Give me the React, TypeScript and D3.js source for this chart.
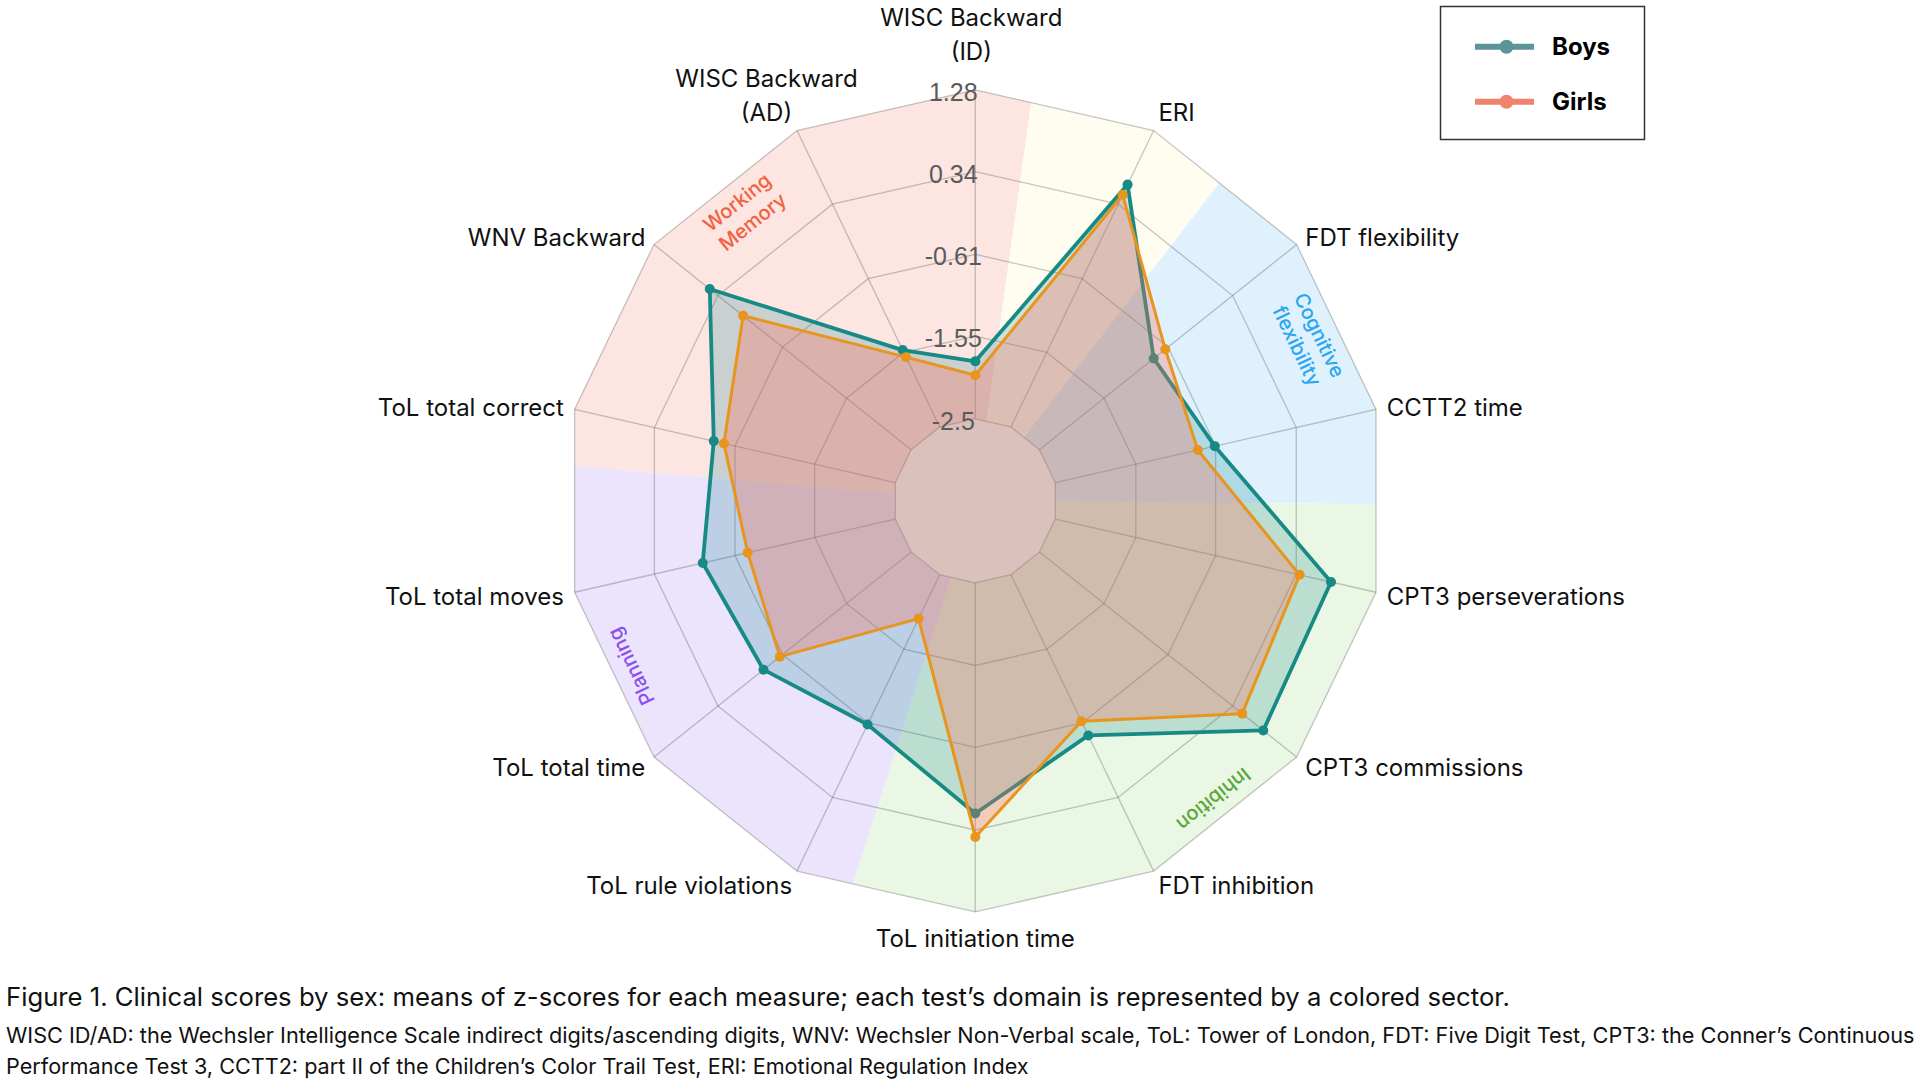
import React from 'react';
import * as d3 from 'd3';

// ---------------- data ----------------
const measures: string[] = [
  'WISC Backward\n(ID)',
  'ERI',
  'FDT flexibility',
  'CCTT2 time',
  'CPT3 perseverations',
  'CPT3 commissions',
  'FDT inhibition',
  'ToL initiation time',
  'ToL rule violations',
  'ToL total time',
  'ToL total moves',
  'ToL total correct',
  'WNV Backward',
  'WISC Backward\n(AD)',
];
const boys: number[] = [-1.84, 0.59, -0.82, -0.62, 0.75, 0.79, -0.45, 0.15, -0.59, -0.33, -0.23, -0.36, 0.46, -1.52];
const girls: number[] = [-2.0, 0.46, -0.65, -0.82, 0.38, 0.48, -0.63, 0.42, -1.94, -0.57, -0.76, -0.48, -0.03, -1.61];
const radialTicks: number[] = [-2.5, -1.55, -0.61, 0.34, 1.28];
const radialTickLabels: string[] = ['-2.5', '-1.55', '-0.61', '0.34', '1.28'];

// domain sectors (degrees, clockwise from top)
const domainNames: string[] = ['Working\nMemory', '', 'Cognitive\nflexibility', 'Inhibition', 'Planning'];
const domainStart: number[] = [-85, 8, 37.5, 90.5, 197.7];
const domainEnd: number[] = [8, 37.5, 90.5, 197.7, 275];
const domainLabelAngle: (number | null)[] = [-38.6, null, 64.3, 141.4, 244.3];

const seriesNames: string[] = ['Boys', 'Girls'];

const captionLines: string[] = [
  'Figure 1. Clinical scores by sex: means of z-scores for each measure; each test\u2019s domain is represented by a colored sector.',
  'WISC ID/AD: the Wechsler Intelligence Scale indirect digits/ascending digits, WNV: Wechsler Non-Verbal scale, ToL: Tower of London, FDT: Five Digit Test, CPT3: the Conner\u2019s Continuous',
  'Performance Test 3, CCTT2: part II of the Children\u2019s Color Trail Test, ERI: Emotional Regulation Index',
];

// ---------------- styles ----------------
const W = 1920;
const H = 1080;
const CX = 975.3;
const CY = 500.8;
const R_IN = 82;
const R_OUT = 411;
const FONT = 'Inter, "Noto Sans", sans-serif';

const sectorFill = ['#fde5e1', '#fffcf0', '#def1fc', '#eaf7e4', '#ebe4fc'];
const domainTextColor = ['#f4603e', '#000', '#2ba6f0', '#5aa83a', '#8b4ff2'];

const seriesLine = ['#178a85', '#e8951e'];
const seriesFill = ['rgba(0,125,135,0.2)', 'rgba(255,108,88,0.3)'];
const legendColor = ['#5b9599', '#f0826e'];

let measureCtx: CanvasRenderingContext2D | null = null;
function textWidth(t: string, font: string): number {
  if (!measureCtx && typeof document !== 'undefined') {
    measureCtx = document.createElement('canvas').getContext('2d');
  }
  if (!measureCtx) return t.length * 12;
  measureCtx.font = font;
  return measureCtx.measureText(t).width;
}

export default function App() {
  const n = measures.length;
  const angle = d3.scaleLinear().domain([0, n]).range([0, 2 * Math.PI]);
  const rScale = d3.scaleLinear().domain([radialTicks[0], radialTicks[radialTicks.length - 1]]).range([R_IN, R_OUT]);
  const idx = d3.range(n);

  const ringPath = (r: number) =>
    (d3.lineRadial<number>().angle((i) => angle(i)).radius(() => r).curve(d3.curveLinearClosed)(idx) as string);

  const outerPoly = ringPath(R_OUT);
  const innerPoly = ringPath(R_IN);

  const sectorArc = d3.arc<any>();
  const deg = (a: number) => (a * Math.PI) / 180;

  const seriesData = [boys, girls];
  const seriesPath = (vals: number[]) =>
    d3
      .lineRadial<number>()
      .angle((_, i) => angle(i))
      .radius((v) => rScale(v))
      .curve(d3.curveLinearClosed)(vals) as string;

  const labelFont = 24;
  const lh = 34;
  const axisLabels = measures.map((m, i) => {
    const a = angle(i);
    const s = Math.sin(a);
    const c = Math.cos(a);
    const px = CX + (R_OUT + 11) * s;
    const py = CY - (R_OUT + 14) * c;
    const lines = m.split('\n');
    const k = lines.length;
    let anchor: 'start' | 'middle' | 'end' = 'middle';
    let x = px;
    let ys: number[] = [];
    if (Math.abs(s) < 0.1) {
      anchor = 'middle';
      if (c > 0) {
        x = px - 4;
        const last = py - 24;
        ys = lines.map((_, j) => last - (k - 1 - j) * lh);
      } else {
        const first = py + 13;
        ys = lines.map((_, j) => first + j * lh);
      }
    } else if (k === 1) {
      anchor = s > 0 ? 'start' : 'end';
      ys = [py + (c > 0.8 ? -5 : 1.5)];
    } else {
      anchor = 'middle';
      const wLast = textWidth(lines[k - 1], `${labelFont}px ${FONT}`);
      x = px + Math.sign(s) * (wLast / 2);
      const last = py - 5;
      ys = lines.map((_, j) => last - (k - 1 - j) * lh);
    }
    return { lines, anchor, x, ys, key: i };
  });

  const captionSizes = [24, 20, 20];
  const captionTargets = [1504, 1910, 1023];
  const captionY = [1006, 1043, 1073.5];
  const captionFs = captionLines.map((t, i) => {
    const w = textWidth(t, `${captionSizes[i]}px ${FONT}`);
    return w > 0 ? (captionSizes[i] * captionTargets[i]) / w : captionSizes[i];
  });

  return (
    <div style={{ position: 'absolute', left: 0, top: 0, width: W, height: H, background: '#fff' }}>
      <svg width={W} height={H} viewBox={`0 0 ${W} ${H}`} style={{ display: 'block', fontFamily: FONT }}>
        <defs>
          <clipPath id="polarClip">
            <path d={outerPoly + innerPoly} transform={`translate(${CX},${CY})`} clipRule="evenodd" />
          </clipPath>
        </defs>
        <rect x={0} y={0} width={W} height={H} fill="#fff" />

        {/* domain sectors */}
        <g clipPath="url(#polarClip)">
          {domainStart.map((s0, i) => (
            <path
              key={i}
              d={sectorArc({ innerRadius: 0, outerRadius: 600, startAngle: deg(s0), endAngle: deg(domainEnd[i]) }) as string}
              transform={`translate(${CX},${CY})`}
              fill={sectorFill[i]}
            />
          ))}
        </g>

        {/* grid */}
        <g transform={`translate(${CX},${CY})`} fill="none" stroke="rgba(80,80,80,0.32)" strokeWidth={1.3}>
          {radialTicks.map((t, i) => (
            <path key={i} d={ringPath(rScale(t))} />
          ))}
          {idx.map((i) => {
            const a = angle(i);
            return (
              <line
                key={i}
                x1={R_IN * Math.sin(a)}
                y1={-R_IN * Math.cos(a)}
                x2={R_OUT * Math.sin(a)}
                y2={-R_OUT * Math.cos(a)}
              />
            );
          })}
        </g>

        {/* domain labels */}
        {domainNames.map((name, i) => {
          const la = domainLabelAngle[i];
          if (!name || la === null) return null;
          const a = deg(la);
          const r = 382;
          const x = CX + r * Math.sin(a);
          const y = CY - r * Math.cos(a);
          return (
            <g key={i} transform={`translate(${x},${y}) rotate(${la})`}>
              {name.split('\n').map((ln, j) => (
                <text
                  key={j}
                  x={0}
                  y={j * 25}
                  textAnchor="middle"
                  dominantBaseline="central"
                  fontSize={20}
                  fontWeight={500}
                  fill={domainTextColor[i]}
                >
                  {ln}
                </text>
              ))}
            </g>
          );
        })}

        {/* series */}
        {seriesData.map((vals, si) => (
          <g key={si} transform={`translate(${CX},${CY})`}>
            <path d={seriesPath(vals)} fill={seriesFill[si]} stroke="none" />
            <path
              d={seriesPath(vals)}
              fill="none"
              stroke={seriesLine[si]}
              strokeWidth={si === 0 ? 3.8 : 3}
              strokeLinejoin="round"
            />
            {vals.map((v, i) => {
              const a = angle(i);
              const r = rScale(v);
              return <circle key={i} cx={r * Math.sin(a)} cy={-r * Math.cos(a)} r={5} fill={seriesLine[si]} />;
            })}
          </g>
        ))}

        {/* radial tick labels */}
        {radialTicks.map((t, i) => (
          <text
            key={i}
            x={CX - 22}
            y={CY - rScale(t) + 2}
            textAnchor="middle"
            dominantBaseline="central"
            fontFamily='"Liberation Sans", Arial, sans-serif'
            fontSize={25}
            fill="#585c5c"
          >
            {radialTickLabels[i]}
          </text>
        ))}

        {/* angular labels */}
        {axisLabels.map((l) => (
          <text key={l.key} textAnchor={l.anchor} fontSize={labelFont} fill="#111">
            {l.lines.map((ln, j) => (
              <tspan key={j} x={l.x} y={l.ys[j]} dominantBaseline="central">
                {ln}
              </tspan>
            ))}
          </text>
        ))}

        {/* legend */}
        <g>
          <rect x={1440.5} y={6.5} width={204} height={133} fill="#fff" stroke="#333" strokeWidth={1.5} />
          {seriesNames.map((nm, i) => {
            const y = 46.7 + i * 55;
            return (
              <g key={i}>
                <line x1={1475} x2={1534} y1={y} y2={y} stroke={legendColor[i]} strokeWidth={6} />
                <circle cx={1506.5} cy={y} r={7} fill={legendColor[i]} />
                <text x={1552} y={y} dominantBaseline="central" fontSize={24} fontWeight={700} fill="#000">
                  {nm}
                </text>
              </g>
            );
          })}
        </g>

        {/* caption */}
        {captionLines.map((t, i) => (
          <text key={i} x={6} y={captionY[i]} fontSize={captionFs[i]} fill="#111">
            {t}
          </text>
        ))}
      </svg>
    </div>
  );
}
